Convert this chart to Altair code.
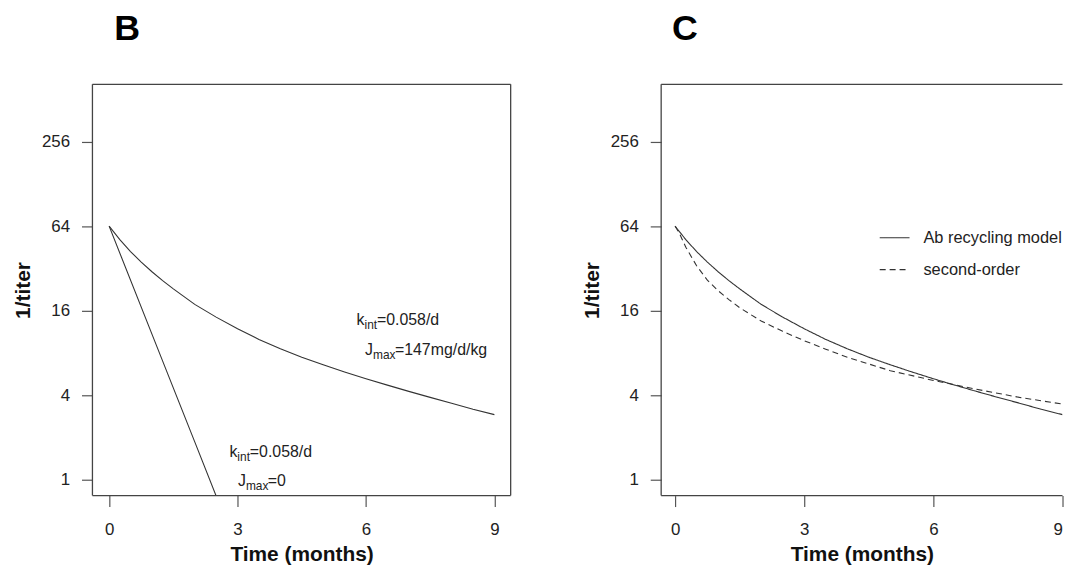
import altair as alt
import pandas as pd

# ---- data ----
# Ab recycling model (k_int=0.058/d, J_max=147 mg/d/kg)
t_rec = [0, 0.25, 0.5, 0.75, 1, 1.25, 1.5, 2, 2.5, 3, 3.5, 4, 4.5, 5, 5.5, 6, 6.5, 7, 7.5, 8, 8.5, 9]
v_rec = [64, 51.3, 42.2, 35.5, 30.3, 26.2, 22.9, 17.75, 14.4, 11.9, 9.99, 8.57, 7.46, 6.59, 5.86, 5.24, 4.72, 4.26, 3.86, 3.51, 3.18, 2.91]
# no recycling (k_int=0.058/d, J_max=0)
t_nor = [0, 1.0, 2.0, 2.52]
v_nor = [64, 10.9, 1.86, 0.74]
# second-order model
t_sec = [0, 0.1, 0.25, 0.5, 0.75, 1, 1.25, 1.5, 2, 2.5, 3, 3.5, 4, 5, 6, 7, 8, 9]
v_sec = [64, 57, 45.3, 33.4, 26.4, 22.2, 19.2, 16.8, 13.5, 11.4, 9.78, 8.51, 7.46, 5.98, 5.10, 4.41, 3.86, 3.46]

x_ticks = [0, 3, 6, 9]
y_ticks = [1, 4, 16, 64, 256]

# annotations in panel B
ann_x = [5.78, 5.98, 2.81, 3.01]
ann_y = [12.6, 7.73, 1.45, 0.90]
ann_lead = ["k", "J", "k", "J"]
ann_sub = ["int", "max", "int", "max"]
ann_rest = ["=0.058/d", "=147mg/d/kg", "=0.058/d", "=0"]

series_names = ["Ab recycling model", "second-order"]

FONT = "Liberation Sans"
LINE = "#333333"
FRAME = "#444444"

WB, WC, H = 421, 404, 414
YDOM = [0.771, 655]

dfB = pd.concat([
    pd.DataFrame({"t": t_rec, "v": v_rec, "s": "rec"}),
    pd.DataFrame({"t": t_nor, "v": v_nor, "s": "nor"}),
])
dfC = pd.concat([
    pd.DataFrame({"t": t_rec, "v": v_rec, "s": series_names[0]}),
    pd.DataFrame({"t": t_sec, "v": v_sec, "s": series_names[1]}),
])
dfA = pd.DataFrame({"x": ann_x, "y": ann_y, "lead": ann_lead, "sub": ann_sub, "rest": ann_rest})
one = pd.DataFrame({"a": [0]})


def xenc(dom, last_right=False):
    extra = {}
    if last_right:
        extra["labelAlign"] = {"condition": {"test": "datum.value === 9", "value": "right"},
                               "value": "center"}
    return alt.X("t:Q", scale=alt.Scale(domain=dom, nice=False, zero=False),
                 axis=alt.Axis(values=x_ticks, title="Time (months)", labelPadding=15,
                               titlePadding=6, titleFontSize=21, **extra))


def yenc():
    return alt.Y("v:Q", scale=alt.Scale(type="log", base=2, domain=YDOM, nice=False, zero=False),
                 axis=alt.Axis(values=y_ticks, title="1/titer", labelPadding=12, titlePadding=8,
                               format="d"))


def frame(w, sides):
    layers = []
    rb = alt.Chart(one).mark_rule(color=FRAME, strokeWidth=1.3)
    if "top" in sides:
        layers.append(rb.encode(x=alt.value(0), x2=alt.value(w), y=alt.value(0)))
    if "bottom" in sides:
        layers.append(rb.encode(x=alt.value(0), x2=alt.value(w), y=alt.value(H)))
    if "left" in sides:
        layers.append(rb.encode(x=alt.value(0), y=alt.value(0), y2=alt.value(H)))
    if "right" in sides:
        layers.append(rb.encode(x=alt.value(w), y=alt.value(0), y2=alt.value(H)))
    return layers


# ---- panel B ----
xB = [-0.39, 9.38]
linesB = alt.Chart(dfB).mark_line(color=LINE, strokeWidth=1.1, clip=True).encode(
    x=xenc(xB), y=yenc(), detail="s:N", order="t:Q")

tA = alt.Chart(dfA).transform_calculate(v="datum.y", t="datum.x")
lead = tA.mark_text(align="left", baseline="alphabetic", font=FONT, fontSize=16, color="#222").encode(
    x="t:Q", y="v:Q", text="lead:N")
sub = tA.mark_text(align="left", baseline="alphabetic", font=FONT, fontSize=12, color="#222", dx=8, dy=4).encode(
    x="t:Q", y="v:Q", text="sub:N")
restk = tA.transform_filter("datum.lead == 'k'").mark_text(
    align="left", baseline="alphabetic", font=FONT, fontSize=16, color="#222", dx=20.5).encode(
    x="t:Q", y="v:Q", text="rest:N")
restj = tA.transform_filter("datum.lead == 'J'").mark_text(
    align="left", baseline="alphabetic", font=FONT, fontSize=16, color="#222", dx=30).encode(
    x="t:Q", y="v:Q", text="rest:N")

panelB = alt.layer(linesB, lead, sub, restk, restj, *frame(WB, ["top", "bottom", "left", "right"])).properties(
    width=WB, height=H,
    title=alt.TitleParams("B", anchor="start", frame="group", fontSize=36, fontWeight="bold",
                          font=FONT, color="black", dx=22, offset=36))

# ---- panel C ----
xC = [-0.323, 9.0]
linesC = alt.Chart(dfC).mark_line(color=LINE, strokeWidth=1.1, clip=True).encode(
    x=xenc(xC, last_right=True), y=yenc(), order="t:Q",
    strokeDash=alt.StrokeDash(
        "s:N",
        scale=alt.Scale(domain=series_names, range=[[1, 0], [6, 4]]),
        legend=alt.Legend(title=None, orient="none", legendX=219, legendY=138.5, symbolType="stroke",
                          symbolSize=900, symbolStrokeWidth=1.1, symbolStrokeColor=LINE,
                          labelFont=FONT, labelFontSize=16.5, labelColor="#222", labelOffset=13,
                          rowPadding=7, padding=0)))

panelC = alt.layer(linesC, *frame(WC, ["top", "bottom", "left"])).properties(
    width=WC, height=H,
    title=alt.TitleParams("C", anchor="start", frame="group", fontSize=36, fontWeight="bold",
                          font=FONT, color="black", dx=11, offset=36))

chart = alt.hconcat(panelB, panelC, spacing=69.5).resolve_scale(
    x="independent", y="independent", strokeDash="independent"
).properties(
    padding={"left": 4, "top": 1, "right": 0, "bottom": 0}
).configure_view(strokeWidth=0).configure_axis(
    domain=False, grid=False, ticks=True, tickSize=11, tickColor="#555", tickWidth=1.2,
    labelFont=FONT, labelFontSize=17, labelColor="#222",
    titleFont=FONT, titleFontSize=21, titleFontWeight="bold", titleColor="#111"
)

chart.save("out.html", embed_options={"renderer": "svg", "actions": False})
